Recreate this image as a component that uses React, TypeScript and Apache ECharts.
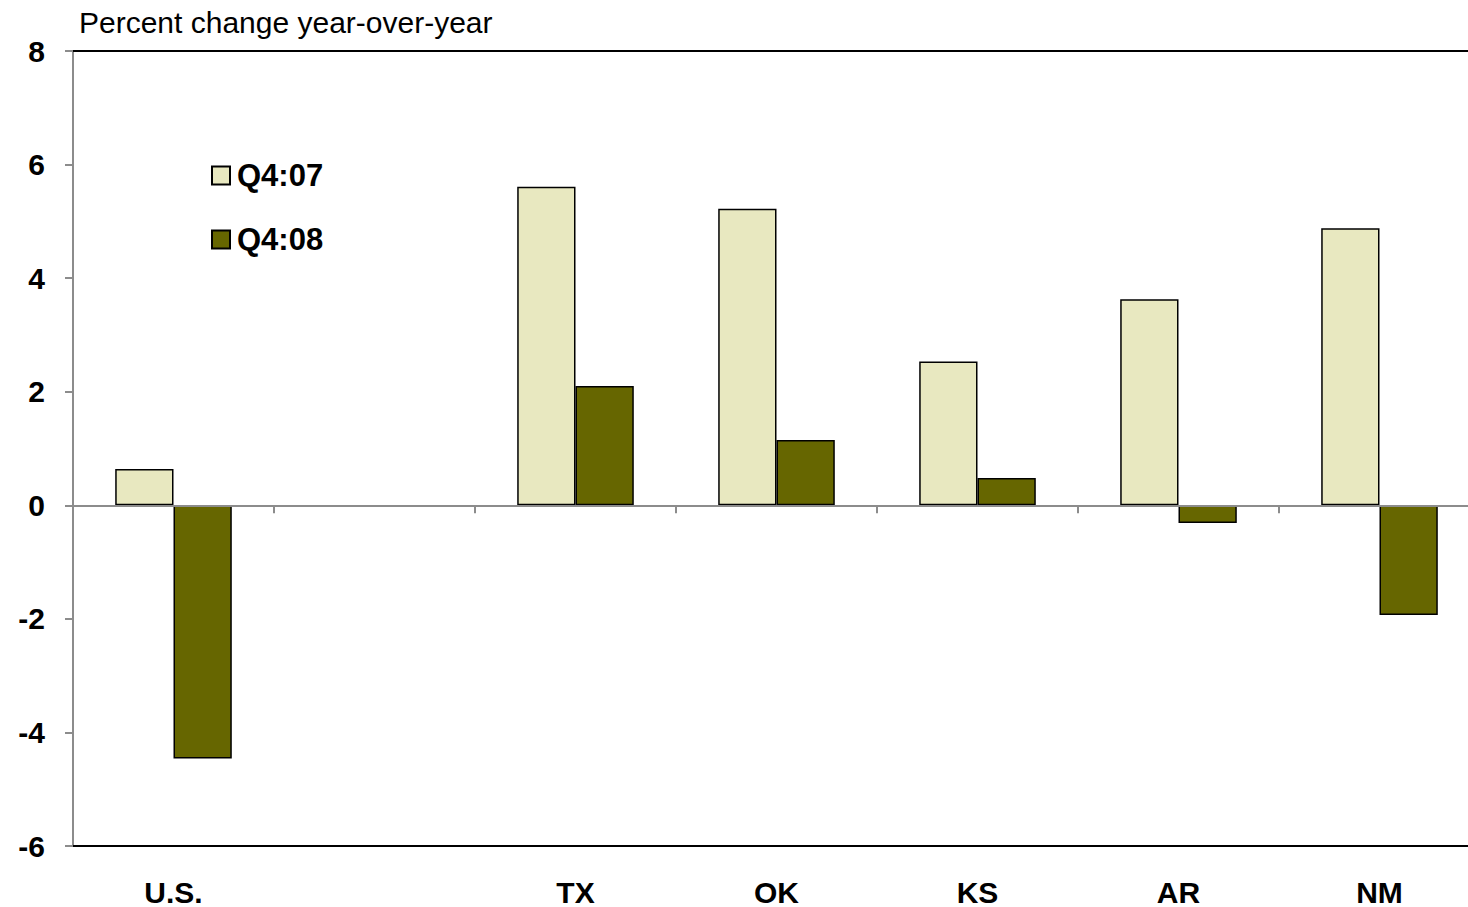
import React, { useEffect, useRef } from "react";
import * as echarts from "echarts";

// Categories (the empty slot separates the U.S. from the states)
const categories = ["U.S.", "", "TX", "OK", "KS", "AR", "NM"];
const seriesNames = ["Q4:07", "Q4:08"];
const q407 = [0.64, null, 5.61, 5.22, 2.53, 3.63, 4.88];
const q408 = [-4.46, null, 2.1, 1.15, 0.48, -0.31, -1.93];
const yMin = -6;
const yMax = 8;
const yStep = 2;

const FONT = "'Liberation Sans', Arial, Helvetica, sans-serif";

export default function App() {
  const ref = useRef<HTMLDivElement>(null);

  useEffect(() => {
    if (!ref.current) return;
    const chart = echarts.init(ref.current, null, { renderer: "svg" });
    chart.setOption({
      animation: false,
      backgroundColor: "#ffffff",
      textStyle: { fontFamily: FONT },
      title: {
        text: "Percent change year-over-year",
        left: 79,
        top: 7,
        padding: 0,
        textStyle: { fontFamily: FONT, fontSize: 30, fontWeight: "normal", color: "#000" },
      },
      legend: {
        orient: "vertical",
        left: 211,
        top: 160,
        padding: 0,
        itemGap: 33,
        itemWidth: 18,
        itemHeight: 18,
        icon: "rect",
        data: seriesNames,
        textStyle: {
          fontFamily: FONT,
          fontSize: 31,
          fontWeight: "bold",
          color: "#000",
          padding: [0, 0, 0, 2],
        },
      },
      // plot area runs a little past the right edge of the visible frame
      grid: { left: 73, top: 51, right: 0, bottom: 61, containLabel: false },
      xAxis: [
        {
          type: "category",
          data: categories,
          boundaryGap: true,
          axisLine: { onZero: true, lineStyle: { color: "#8c8c8c", width: 2 } },
          axisTick: { show: true, length: 8, lineStyle: { color: "#8c8c8c", width: 2 } },
          axisLabel: { show: false },
          splitLine: { show: false },
          z: 5,
        },
        {
          type: "category",
          data: categories,
          position: "bottom",
          axisLine: { onZero: false, lineStyle: { color: "#000", width: 2 } },
          axisTick: { show: false },
          axisLabel: {
            show: true,
            margin: 31,
            fontFamily: FONT,
            fontSize: 30,
            fontWeight: "bold",
            color: "#000",
          },
          splitLine: { show: false },
        },
        {
          type: "category",
          data: categories,
          position: "top",
          axisLine: { onZero: false, lineStyle: { color: "#000", width: 2 } },
          axisTick: { show: false },
          axisLabel: { show: false },
          splitLine: { show: false },
        },
      ],
      yAxis: {
        type: "value",
        min: yMin,
        max: yMax,
        interval: yStep,
        axisLine: { show: true, lineStyle: { color: "#8c8c8c", width: 2 } },
        axisTick: { show: true, length: 8, lineStyle: { color: "#8c8c8c", width: 2 } },
        axisLabel: {
          margin: 28,
          fontFamily: FONT,
          fontSize: 30,
          fontWeight: "bold",
          color: "#000",
        },
        splitLine: { show: false },
      },
      series: [
        {
          name: seriesNames[0],
          type: "bar",
          data: q407,
          barGap: "0%",
          barCategoryGap: "42%",
          itemStyle: { color: "#e8e8c0", borderColor: "#000", borderWidth: 1.5 },
        },
        {
          name: seriesNames[1],
          type: "bar",
          data: q408,
          barGap: "0%",
          barCategoryGap: "42%",
          itemStyle: { color: "#666600", borderColor: "#000", borderWidth: 1.5 },
        },
      ],
    });
    return () => chart.dispose();
  }, []);

  return (
    <div
      style={{
        position: "absolute",
        left: 0,
        top: 0,
        width: 1468,
        height: 907,
        overflow: "hidden",
      }}
    >
      <div ref={ref} style={{ width: 1480, height: 907 }} />
    </div>
  );
}
